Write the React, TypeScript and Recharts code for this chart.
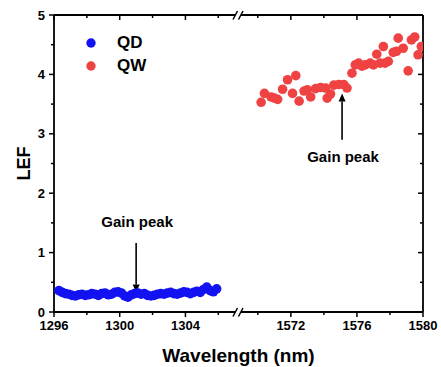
import React from 'react';
import { ScatterChart, Scatter, XAxis, YAxis, ReferenceLine, Legend } from 'recharts';

const FONT = '"Liberation Sans", Arial, Helvetica, sans-serif';

// QD band (O-band side)
const QD_WL = [
  1296.3, 1296.5, 1296.7, 1296.9, 1297.1, 1297.3, 1297.5, 1297.7, 1297.9, 1298.1,
  1298.3, 1298.5, 1298.7, 1298.9, 1299.1, 1299.3, 1299.5, 1299.7, 1299.9, 1300.1,
  1300.3, 1300.5, 1300.7, 1300.9, 1301.1, 1301.3, 1301.5, 1301.7, 1301.9, 1302.1,
  1302.3, 1302.5, 1302.7, 1302.9, 1303.1, 1303.3, 1303.5, 1303.7, 1303.9, 1304.1,
  1304.3, 1304.5, 1304.7, 1304.9, 1305.1, 1305.3, 1305.5, 1305.7, 1305.9,
];
const QD_LEF = [
  0.36, 0.33, 0.31, 0.3, 0.28, 0.27, 0.29, 0.3, 0.28, 0.29,
  0.31, 0.3, 0.28, 0.31, 0.32, 0.29, 0.3, 0.33, 0.34, 0.32,
  0.27, 0.25, 0.29, 0.31, 0.32, 0.3, 0.31, 0.28, 0.27, 0.28,
  0.3, 0.31, 0.3, 0.32, 0.33, 0.31, 0.3, 0.32, 0.34, 0.33,
  0.31, 0.33, 0.35, 0.33, 0.38, 0.42, 0.36, 0.34, 0.39,
];

// QW (C-band side)
const QW_WL = [
  1570.2, 1570.4, 1570.8, 1571.0, 1571.2, 1571.5, 1571.8, 1572.1, 1572.3, 1572.5,
  1572.8, 1573.0, 1573.2, 1573.5, 1573.8, 1574.1, 1574.2, 1574.4, 1574.6, 1574.9,
  1575.2, 1575.4, 1575.7, 1575.9, 1576.1, 1576.3, 1576.5, 1576.8, 1577.0, 1577.2,
  1577.4, 1577.6, 1577.7, 1577.9, 1578.2, 1578.4, 1578.5, 1578.8, 1579.1, 1579.3,
  1579.5, 1579.7, 1579.9,
];
const QW_LEF = [
  3.53, 3.68, 3.62, 3.6, 3.58, 3.75, 3.91, 3.68, 3.98, 3.55,
  3.72, 3.74, 3.62, 3.76, 3.78, 3.77, 3.6, 3.67, 3.82, 3.83,
  3.83, 3.77, 4.02, 4.16, 4.19, 4.14, 4.16, 4.19, 4.16, 4.34,
  4.19, 4.47, 4.19, 4.22, 4.37, 4.39, 4.61, 4.44, 4.06, 4.58,
  4.63, 4.33, 4.47,
];

const LEFT_DOMAIN = [1296, 1307.2];
const RIGHT_DOMAIN = [1568.8, 1580];
const LEFT_TICKS = [1296, 1298, 1300, 1302, 1304, 1306];
const RIGHT_TICKS = [1570, 1572, 1574, 1576, 1578, 1580];
const Y_TICKS = [0, 0.5, 1, 1.5, 2, 2.5, 3, 3.5, 4, 4.5, 5];
const Y_DOMAIN = [0, 5];

// gain peak arrows: [wavelength, from LEF, to LEF]
const QD_PEAK = [1301, 1.16, 0.33];
const QW_PEAK = [1575.1, 2.9, 3.68];

const SERIES = [
  { name: 'QD', color: '#1212f2' },
  { name: 'QW', color: '#ef4242' },
];

const qdData = QD_WL.map((w, i) => ({ x: w, y: QD_LEF[i] }));
const qwData = QW_WL.map((w, i) => ({ x: w, y: QW_LEF[i] }));

const FRAME = { stroke: '#000', strokeWidth: 1.8 };
const TICK_W = 1.5;

const isMajorX = (v: number) => v % 4 === 0;
const isMajorY = (v: number) => Number.isInteger(v);

const BottomTick = (p: any) => {
  const { x, y, payload } = p;
  const major = isMajorX(payload.value);
  return (
    <g>
      <line x1={x} x2={x} y1={y} y2={y + (major ? 5 : 3)} stroke="#000" strokeWidth={TICK_W} />
      {major && (
        <text x={x} y={y + 18} textAnchor="middle" fontFamily={FONT} fontWeight="bold" fontSize={13} fill="#000">
          {payload.value}
        </text>
      )}
    </g>
  );
};

const LeftTick = (p: any) => {
  const { x, y, payload } = p;
  const major = isMajorY(payload.value);
  return (
    <g>
      <line x1={x - (major ? 5 : 3)} x2={x} y1={y} y2={y} stroke="#000" strokeWidth={TICK_W} />
      {major && (
        <text x={x - 9} y={y + 4.6} textAnchor="end" fontFamily={FONT} fontWeight="bold" fontSize={13} fill="#000">
          {payload.value}
        </text>
      )}
    </g>
  );
};

// inward ticks on the top and right frame, drawn from a reference line's end points
const topTick = (len: number) => (p: any) => {
  const top = Math.min(p.y1, p.y2);
  return <line x1={p.x1} x2={p.x1} y1={top} y2={top + len} stroke="#000" strokeWidth={TICK_W} />;
};
const rightTick = (len: number) => (p: any) => {
  const right = Math.max(p.x1, p.x2);
  return <line x1={right - len} x2={right} y1={p.y1} y2={p.y1} stroke="#000" strokeWidth={TICK_W} />;
};

const dot = (color: string) => (p: any) => <circle cx={p.cx} cy={p.cy} r={4.8} fill={color} />;

const arrow = (labelDy: number) => (p: any) => {
  const { x1, y1, x2, y2 } = p;
  const dir = y2 > y1 ? 1 : -1;
  const head = 8;
  return (
    <g>
      <line x1={x1} y1={y1} x2={x2} y2={y2 - dir * head} stroke="#000" strokeWidth={1.6} />
      <polygon points={`${x2},${y2} ${x2 - 3.5},${y2 - dir * head} ${x2 + 3.5},${y2 - dir * head}`} fill="#000" />
      <text x={x1 + 1} y={y1 + labelDy} textAnchor="middle" fontFamily={FONT} fontWeight="bold" fontSize={15} fill="#000">
        Gain peak
      </text>
    </g>
  );
};

const LegendBox = () => (
  <div style={{ fontFamily: FONT, fontWeight: 'bold', fontSize: 17 }}>
    {SERIES.map((s) => (
      <div key={s.name} style={{ display: 'flex', alignItems: 'center', height: 23 }}>
        <svg width={10} height={10} style={{ display: 'block' }}>
          <circle cx={5} cy={5} r={4.7} fill={s.color} />
        </svg>
        <span style={{ marginLeft: 21, lineHeight: '23px' }}>{s.name}</span>
      </div>
    ))}
  </div>
);

const BreakMark = ({ cx, cy }: { cx: number; cy: number }) => (
  <g>
    <rect x={cx - 3} y={cy - 3} width={6} height={6} fill="#fff" />
    <line x1={cx - 5} y1={cy + 4.5} x2={cx - 0.5} y2={cy - 4} stroke="#000" strokeWidth={1.5} />
    <line x1={cx + 0.5} y1={cy + 4.5} x2={cx + 5} y2={cy - 4} stroke="#000" strokeWidth={1.5} />
  </g>
);

// one half of the broken x axis
function Half({
  width,
  margin,
  domain,
  ticks,
  side,
  children,
}: {
  width: number;
  margin: { top: number; right: number; bottom: number; left: number };
  domain: number[];
  ticks: number[];
  side: 'left' | 'right';
  children: React.ReactNode;
}) {
  return (
    <ScatterChart width={width} height={367} margin={margin}>
      <XAxis
        xAxisId="b"
        type="number"
        dataKey="x"
        domain={domain}
        ticks={ticks}
        interval={0}
        height={30}
        tickSize={0}
        tickMargin={0}
        tick={<BottomTick />}
        axisLine={false}
        allowDataOverflow
      />
      <YAxis
        orientation={side}
        type="number"
        dataKey="y"
        domain={Y_DOMAIN}
        ticks={Y_TICKS}
        interval={0}
        width={side === 'left' ? 54 : 1}
        tickSize={0}
        tickMargin={0}
        tick={side === 'left' ? <LeftTick /> : false}
        axisLine={false}
        allowDataOverflow
      />
      <ReferenceLine xAxisId="b" y={Y_DOMAIN[0]} ifOverflow="visible" {...FRAME} />
      <ReferenceLine xAxisId="b" y={Y_DOMAIN[1]} ifOverflow="visible" {...FRAME} />
      <ReferenceLine
        xAxisId="b"
        x={side === 'left' ? domain[0] : domain[1]}
        ifOverflow="visible"
        {...FRAME}
      />
      {ticks.map((v) => (
        <ReferenceLine key={'t' + v} xAxisId="b" x={v} ifOverflow="visible" shape={topTick(isMajorX(v) ? 5 : 3)} />
      ))}
      {side === 'right' &&
        Y_TICKS.map((v) => (
          <ReferenceLine key={'r' + v} xAxisId="b" y={v} ifOverflow="visible" shape={rightTick(isMajorY(v) ? 5 : 3)} />
        ))}
      {children}
    </ScatterChart>
  );
}

export default function App() {
  return (
    <div style={{ position: 'absolute', left: 0, top: 0, width: 441, height: 367, background: '#fff' }}>
      <div style={{ position: 'absolute', left: 0, top: 0 }}>
        <Half width={238} margin={{ top: 15, right: 0, bottom: 25, left: 0 }} domain={LEFT_DOMAIN} ticks={LEFT_TICKS} side="left">
          <Scatter xAxisId="b" name="QD" data={qdData} fill={SERIES[0].color} shape={dot(SERIES[0].color)} isAnimationActive={false} />
          <ReferenceLine
            xAxisId="b"
            segment={[{ x: QD_PEAK[0], y: QD_PEAK[1] }, { x: QD_PEAK[0], y: QD_PEAK[2] }]}
            shape={arrow(-16)}
            ifOverflow="visible"
          />
          <Legend
            layout="vertical"
            align="center"
            verticalAlign="middle"
            content={() => <LegendBox />}
            wrapperStyle={{ left: 86, top: 31, width: 90 }}
          />
        </Half>
      </div>
      <div style={{ position: 'absolute', left: 238, top: 0 }}>
        <Half width={203} margin={{ top: 15, right: 17, bottom: 25, left: 0 }} domain={RIGHT_DOMAIN} ticks={RIGHT_TICKS} side="right">
          <Scatter xAxisId="b" name="QW" data={qwData} fill={SERIES[1].color} shape={dot(SERIES[1].color)} isAnimationActive={false} />
          <ReferenceLine
            xAxisId="b"
            segment={[{ x: QW_PEAK[0], y: QW_PEAK[1] }, { x: QW_PEAK[0], y: QW_PEAK[2] }]}
            shape={arrow(22)}
            ifOverflow="visible"
          />
        </Half>
      </div>
      <svg width={441} height={367} style={{ position: 'absolute', left: 0, top: 0, pointerEvents: 'none' }}>
        <BreakMark cx={238} cy={15} />
        <BreakMark cx={238} cy={312} />
        <text x={238.5} y={362} textAnchor="middle" fontFamily={FONT} fontWeight="bold" fontSize={19} fill="#000">
          Wavelength (nm)
        </text>
        <text
          x={0}
          y={0}
          transform="translate(30, 163.5) rotate(-90)"
          textAnchor="middle"
          fontFamily={FONT}
          fontWeight="bold"
          fontSize={18}
          fill="#000"
        >
          LEF
        </text>
      </svg>
    </div>
  );
}
